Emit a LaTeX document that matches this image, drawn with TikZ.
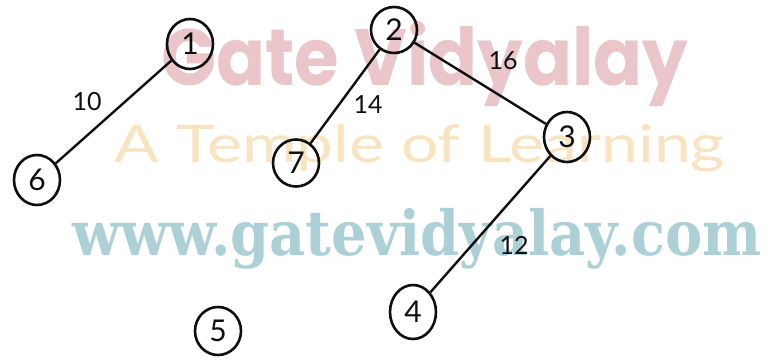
\documentclass[tikz,border=0pt]{standalone}
\usepackage{fontspec}
\usetikzlibrary{shapes.geometric}
\setmainfont{Lato}
\newfontfamily\bannerfont{Poppins}
\newfontfamily\mottofont{Lato}
\newfontfamily\urlfont{DejaVu Serif}
\definecolor{markpink}{RGB}{234,198,203}
\definecolor{markgold}{RGB}{248,228,192}
\definecolor{markteal}{RGB}{172,208,213}
\definecolor{ink}{RGB}{15,15,15}

\begin{document}
\begin{tikzpicture}[x=1pt,y=-1pt,
  vert/.style={draw=ink, ellipse, line width=2.6pt, inner sep=0pt,
    minimum width=46pt, minimum height=50pt, text=ink,
    font=\fontsize{30}{30}\selectfont},
  edge/.style={draw=ink, line width=2.4pt},
  wt/.style={text=ink, inner sep=0pt, font=\fontsize{25}{25}\selectfont}]
\fill[white] (0,0) rectangle (771,359);
\useasboundingbox (0,0) rectangle (771,359);

% background lettering
\node[text=markpink, inner sep=0pt, anchor=base] (banner) at (425,85)
  {\scalebox{0.95}[1.05]{\bannerfont\bfseries\fontsize{76}{76}\selectfont Gate Vidyalay}};
\node[text=markgold, inner sep=0pt, anchor=base] (motto) at (420,162)
  {\scalebox{1.27}[1]{\mottofont\fontsize{52}{52}\selectfont A Temple of Learning}};
\node[text=markteal, inner sep=0pt, anchor=base] (site) at (417,255)
  {\scalebox{0.9}[1]{\urlfont\bfseries\fontsize{62}{62}\selectfont www.gatevidyalay.com}};

% vertices
\node[vert] (v1) at (190,44) {1};
\node[vert, minimum height=46pt] (v2) at (394,30) {2};
\node[vert] (v3) at (567,137) {3};
\node[vert] (v6) at (37,180) {6};
\node[vert, minimum height=47pt] (v7) at (296,163) {7};
\node[vert, minimum height=54pt] (v4) at (413,312) {4};
\node[vert, minimum height=48pt] (v5) at (218,331) {5};

% weighted edges
\draw[edge] (v1) -- (v6);
\draw[edge] (v2) -- (v7);
\draw[edge] (v2) -- (v3);
\draw[edge] (v3) -- (v4);

\node[wt] (w10) at (87,102) {10};
\node[wt] (w14) at (368,105) {14};
\node[wt] (w16) at (503,61) {16};
\node[wt] (w12) at (514,245) {12};
\end{tikzpicture}
\end{document}
